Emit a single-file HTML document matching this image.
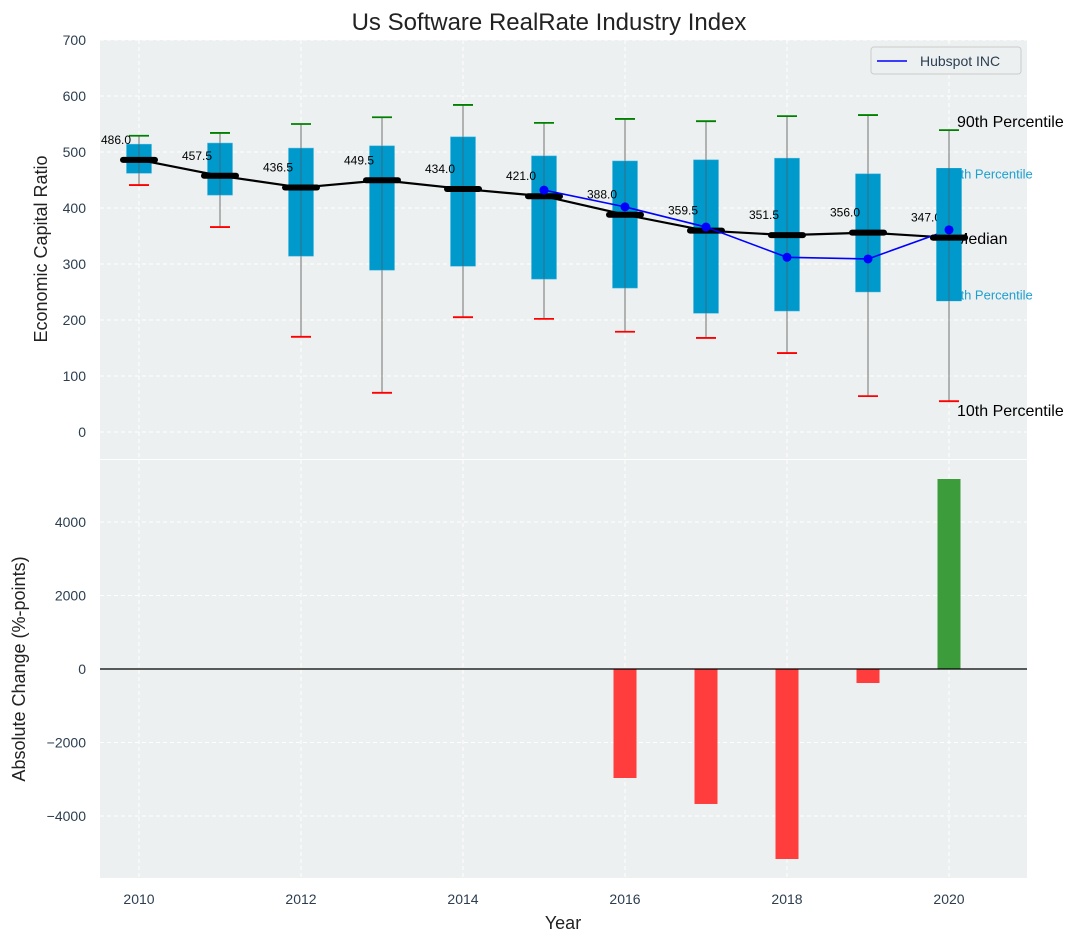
<!DOCTYPE html>
<html><head><meta charset="utf-8"><style>
body{margin:0;background:#fff;}
svg{display:block;font-family:"Liberation Sans","DejaVu Sans",sans-serif;}
</style></head><body>
<svg id="c" width="1092" height="942"></svg>
<script>
const years=[2010,2011,2012,2013,2014,2015,2016,2017,2018,2019,2020];
const p90=[529,534,550,562,584,552,559,555,564,566,539];
const q75=[514,516,507,511,527,493,484,486,489,461,471];
const medians=[486,457.5,436.5,449.5,434,421,388,359.5,351.5,356,347];
const q25=[462,423,314,289,296,273,257,212,216,250,234];
const p10=[441,366,170,70,205,202,179,168,141,64,55];
const hubYears=[2015,2016,2017,2018,2019,2020];
const hubValues=[432,402,366,312,309,361];
const changeYears=[2016,2017,2018,2019,2020];
const changeValues=[-2966,-3673,-5170,-381,5170];
const topTicks=[0,100,200,300,400,500,600,700];
const botTicks=[-4000,-2000,0,2000,4000];
const xTicks=[2010,2012,2014,2016,2018,2020];

const NS='http://www.w3.org/2000/svg';
const svg=document.getElementById('c');
function el(tag,attrs,parent,text){const e=document.createElementNS(NS,tag);for(const k in attrs)e.setAttribute(k,attrs[k]);if(text!==undefined)e.textContent=text;(parent||svg).appendChild(e);return e;}
const L=100,R=1027,T1=40,B1=459,T2=460,B2=878;
const x=yr=>139+81*(yr-2010);
const y1=v=>432-0.56*v;
const y2=v=>669-0.03675*v;

let e;
e=el('rect',{x:L,y:T1,width:R-L,height:B1-T1,fill:'#ecf0f1'});

e=el('rect',{x:L,y:T2,width:R-L,height:B2-T2,fill:'#ecf0f1'});


xTicks.forEach(t=>{
 el('line',{x1:x(t),x2:x(t),y1:T1,y2:B1,stroke:'#fff','stroke-dasharray':'4,3','stroke-width':1});
 el('line',{x1:x(t),x2:x(t),y1:T2,y2:B2,stroke:'#fff','stroke-dasharray':'4,3','stroke-width':1});
 e=el('text',{x:x(t),y:904,'text-anchor':'middle','font-size':14,fill:'#2c3e50'},null,t);
 
});
topTicks.forEach(t=>{
 el('line',{x1:L,x2:R,y1:y1(t),y2:y1(t),stroke:'#fff','stroke-dasharray':'4,3'});
 e=el('text',{x:86,y:y1(t)+5,'text-anchor':'end','font-size':14,fill:'#2c3e50'},null,t);
 
});
botTicks.forEach(t=>{
 el('line',{x1:L,x2:R,y1:y2(t),y2:y2(t),stroke:'#fff','stroke-dasharray':'4,3'});
 e=el('text',{x:86,y:y2(t)+5,'text-anchor':'end','font-size':14,fill:'#2c3e50'},null,t<0?'\u2212'+(-t):t);
 
});

years.forEach((yr,i)=>{
 const cx=x(yr);
 e=el('line',{x1:cx,x2:cx,y1:y1(p90[i]),y2:y1(p10[i]),stroke:'#888','stroke-width':1.2});
 
 e=el('rect',{x:cx-12.5,y:y1(q75[i]),width:25,height:y1(q25[i])-y1(q75[i]),fill:'#0099cc',stroke:'#4db8e0','stroke-width':0.5});
 
 el('line',{x1:cx,x2:cx,y1:y1(q75[i]),y2:y1(q25[i]),stroke:'#555','stroke-width':1,opacity:0.6});
 e=el('line',{x1:cx-10,x2:cx+10,y1:y1(p90[i]),y2:y1(p90[i]),stroke:'green','stroke-width':1.8});
 
 e=el('line',{x1:cx-10,x2:cx+10,y1:y1(p10[i]),y2:y1(p10[i]),stroke:'red','stroke-width':1.8});
 
});
e=el('polyline',{points:years.map((yr,i)=>x(yr)+','+y1(medians[i])).join(' '),fill:'none',stroke:'#000','stroke-width':2.2});

years.forEach((yr,i)=>{
 e=el('line',{x1:x(yr)-16,x2:x(yr)+16,y1:y1(medians[i]),y2:y1(medians[i]),stroke:'#000','stroke-width':6,'stroke-linecap':'round'});
 
 e=el('text',{x:x(yr)-23,y:y1(medians[i])-16,'text-anchor':'middle','font-size':12,fill:'#000'},null,medians[i].toFixed(1));
 
});
e=el('polyline',{points:hubYears.map((yr,i)=>x(yr)+','+y1(hubValues[i])).join(' '),fill:'none',stroke:'#0000ff','stroke-width':1.6});

hubYears.forEach((yr,i)=>{
 e=el('circle',{cx:x(yr),cy:y1(hubValues[i]),r:4.5,fill:'#0000ff'});
 
});
const last=years.length-1, ax=x(years[last]);
[['90th Percentile',p90[last]+16,'#000',16,ax+8],['75th Percentile',q75[last]-8,'#1f9fd0',13,ax-3],['Median',medians[last]-1,'#000',16,ax+6],['25th Percentile',q25[last]+13,'#1f9fd0',13,ax-3],['10th Percentile',p10[last]-16,'#000',16,ax+8]].forEach(a=>{
 e=el('text',{x:a[4],y:y1(a[1])+6,'font-size':a[3],fill:a[2]},null,a[0]);
 
});
(function(){const i=last,cx=x(years[i]);
 el('rect',{x:cx-12.5,y:y1(q75[i]),width:25,height:y1(q25[i])-y1(q75[i]),fill:'#0099cc'});
 el('line',{x1:cx,x2:cx,y1:y1(q75[i]),y2:y1(q25[i]),stroke:'#555','stroke-width':1,opacity:0.6});
 el('line',{x1:cx-16,x2:cx+16,y1:y1(medians[i]),y2:y1(medians[i]),stroke:'#000','stroke-width':6,'stroke-linecap':'round'});
 el('circle',{cx:cx,cy:y1(hubValues[hubValues.length-1]),r:4.5,fill:'#0000ff'});
})();

changeYears.forEach((yr,i)=>{
 const v=changeValues[i];
 e=el('rect',{x:x(yr)-11.5,y:Math.min(y2(v),y2(0)),width:23,height:Math.abs(y2(v)-y2(0)),fill:v<0?'#ff3d3d':'#3c9c3c'});
 
});
e=el('line',{x1:L,x2:R,y1:y2(0),y2:y2(0),stroke:'#000','stroke-width':1.2});


const lg=el('g',{});

el('rect',{x:871,y:47,width:150,height:27,rx:3,fill:'#ecf0f1',stroke:'#ccc'},lg);
el('line',{x1:877,x2:907,y1:61,y2:61,stroke:'#0000ff','stroke-width':1.6},lg);
e=el('text',{x:920,y:66,'font-size':14,fill:'#2c3e50'},lg,'Hubspot INC');


e=el('text',{x:549,y:30,'text-anchor':'middle','font-size':24,fill:'#222'},null,'Us Software RealRate Industry Index');

e=el('text',{x:563,y:929,'text-anchor':'middle','font-size':18,fill:'#222'},null,'Year');

e=el('text',{x:0,y:0,'text-anchor':'middle','font-size':18,fill:'#222',transform:'translate(47,249) rotate(-90)'},null,'Economic Capital Ratio');

e=el('text',{x:0,y:0,'text-anchor':'middle','font-size':18,fill:'#222',transform:'translate(25,669) rotate(-90)'},null,'Absolute Change (%-points)');

</script>
</body></html>
